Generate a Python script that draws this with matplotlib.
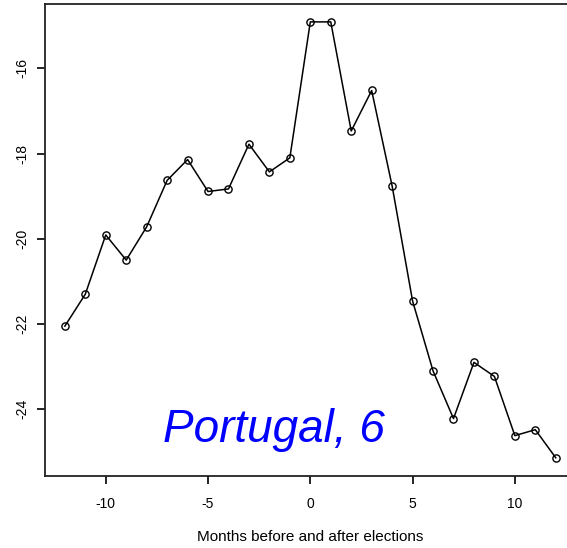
import matplotlib
matplotlib.use("Agg")
import matplotlib.pyplot as plt

plt.rcParams['font.family'] = ['Liberation Sans', 'DejaVu Sans']

# Monthly values around the election month (0)
months = [-12, -11, -10, -9, -8, -7, -6, -5, -4, -3, -2, -1, 0,
          1, 2, 3, 4, 5, 6, 7, 8, 9, 10, 11, 12]
values = [-22.05, -21.30, -19.91, -20.50, -19.72, -18.63, -18.14, -18.89,
          -18.83, -17.78, -18.43, -18.10, -14.91, -14.91, -17.47, -16.52,
          -18.76, -21.46, -23.10, -24.22, -22.90, -23.23, -24.62, -24.48,
          -25.14]
x_ticks = [-10, -5, 0, 5, 10]
y_ticks = [-24, -22, -20, -18, -16]
label_text = "Portugal, 6"
x_label = "Months before and after elections"

W, H, DPI = 567, 548, 100
fig = plt.figure(figsize=(W / DPI, H / DPI), dpi=DPI)
ax = fig.add_axes([45 / W, 1 - 475.7 / H, 530.6 / W, 471.7 / H])

ax.plot(months, values, color='black', lw=1.1, marker='o', ms=5.2,
        mfc='none', mec='black', mew=1.0)

ax.set_xlim(-12.97, 12.97)
ax.set_ylim(-25.56, -14.49)
ax.set_xticks(x_ticks)
ax.set_xticklabels([str(t) for t in x_ticks])
ax.set_yticks(y_ticks)
ax.set_yticklabels([str(t) for t in y_ticks], rotation=90, va='center')
ax.tick_params(axis='both', direction='out', length=6, width=1.2,
               labelsize=10, colors='black')
ax.tick_params(axis='x', pad=9)
ax.tick_params(axis='y', pad=5)

for side in ['left', 'bottom', 'top', 'right']:
    ax.spines[side].set_linewidth(1.3)
    ax.spines[side].set_color('#222222')

ax.text(-7.2, -24.77, label_text, color='#0000ff', fontsize=33,
        style='italic', ha='left', va='baseline')

fig.text(310 / W, 1 - 537 / H, x_label, ha='center', va='center',
         fontsize=11)

fig.savefig('out.png', dpi=DPI)
